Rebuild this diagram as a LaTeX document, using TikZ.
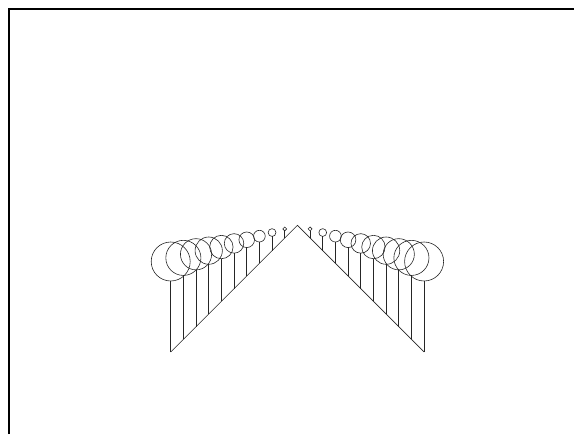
\documentclass[tikz,border=0pt]{standalone}
\begin{document}
\begin{tikzpicture}[x=1pt,y=-1pt,
  frame/.style={line width=2pt,black},
  thin/.style={line width=0.6pt,black!85}]
\useasboundingbox (0,0) rectangle (575,434);
\coordinate (tl) at (9,9);
\coordinate (tr) at (574,9);
\coordinate (bl) at (9,434);
\draw[frame] (bl) -- (tl) -- (tr);
\coordinate (apex) at (297.4,225.3);
\coordinate (lb) at (170.7,352);
\coordinate (rb) at (424.1,352);
\draw[thin] (lb) -- (apex) -- (rb);
\foreach \k in {0,...,9}{
  \pgfmathsetmacro{\xl}{170.7+12.67*\k}
  \pgfmathsetmacro{\xr}{424.1-12.67*\k}
  \pgfmathsetmacro{\yd}{352-12.67*\k}
  \pgfmathsetmacro{\yt}{\yd-7.1*(10-\k)}
  \pgfmathsetmacro{\r}{1.95*(10-\k)}
  \pgfmathsetmacro{\yc}{\yt-\r}
  \coordinate (ls\k) at (\xl,\yd);
  \coordinate (lt\k) at (\xl,\yt);
  \coordinate (rs\k) at (\xr,\yd);
  \coordinate (rt\k) at (\xr,\yt);
  \draw[thin] (ls\k) -- (lt\k);
  \draw[thin] (rs\k) -- (rt\k);
  \draw[thin] (\xl,\yc) circle[radius=\r];
  \draw[thin] (\xr,\yc) circle[radius=\r];
}
\end{tikzpicture}
\end{document}
